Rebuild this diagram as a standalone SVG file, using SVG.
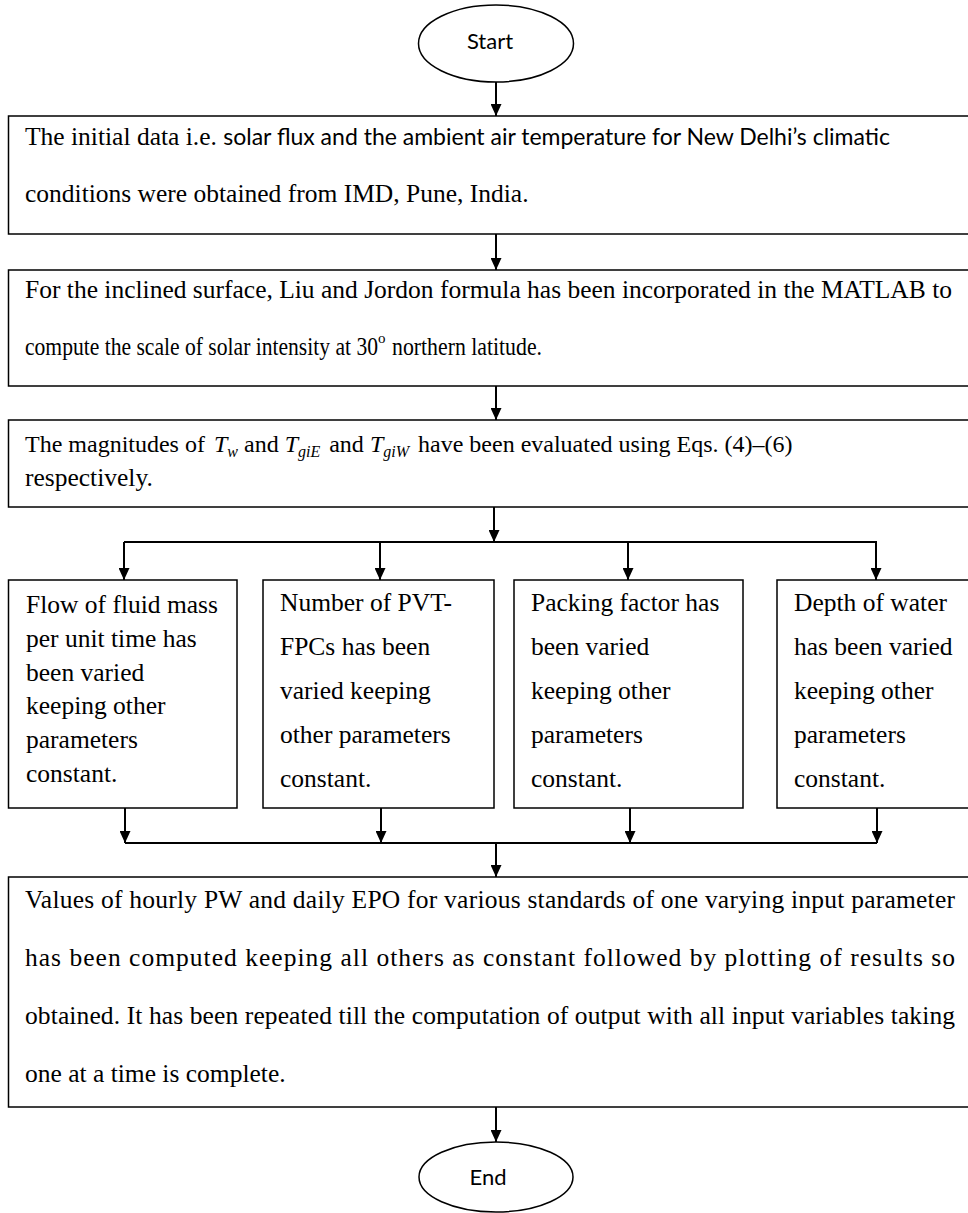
<svg xmlns="http://www.w3.org/2000/svg" width="968" height="1213" viewBox="0 0 968 1213">
<style>
.box{fill:#fff;stroke:#000;stroke-width:1.5}
.term{fill:#fff;stroke:#000;stroke-width:1.5}
.t{font-family:"Liberation Serif","Times New Roman",serif;font-size:25.5px;fill:#000}
.sup{font-family:"Liberation Serif","Times New Roman",serif;font-size:15px;fill:#000}
.s{font-family:Lato,"Open Sans",sans-serif;font-size:23px}
.m{font-style:italic}
.sub{font-style:italic;font-size:16px}
.tt{font-family:Lato,"Open Sans",sans-serif;font-size:22px;fill:#000}
.ln{stroke:#000;stroke-width:2;fill:none}
.ar{stroke:#000;stroke-width:2;fill:none;marker-end:url(#ah)}
</style>
<defs>
<marker id="ah" markerUnits="userSpaceOnUse" markerWidth="12" markerHeight="11" viewBox="0 0 12 11" refX="12" refY="5.5" orient="auto"><path d="M0,0 L12,5.5 L0,11 z" fill="#000"/></marker>
</defs>
<g id="connectors">
<path class="ar" d="M496,82 V116"/>
<path class="ar" d="M496,234 V270"/>
<path class="ar" d="M496,386 V420"/>
<path class="ar" d="M494,507 V542"/>
<path class="ln" d="M124,542 H877"/>
<path class="ar" d="M124,542 V580"/>
<path class="ar" d="M380,542 V580"/>
<path class="ar" d="M628,542 V580"/>
<path class="ar" d="M876,542 V580"/>
<path class="ar" d="M125,808 V843"/>
<path class="ar" d="M381,808 V843"/>
<path class="ar" d="M630,808 V843"/>
<path class="ar" d="M877,808 V843"/>
<path class="ln" d="M125,843 H877"/>
<path class="ar" d="M496,843 V877"/>
<path class="ar" d="M496,1107 V1142"/>
</g>
<g id="start">
<ellipse class="term" cx="496" cy="43.5" rx="77.5" ry="38.5"/>
<text class="tt" x="490" y="49" text-anchor="middle">Start</text>
</g>
<g id="box1">
<rect class="box" x="8.5" y="116" width="975" height="118"/>
<text class="t" x="25" y="145">The initial data i.e. <tspan class="s">solar flux and the ambient air temperature for New Delhi’s climatic</tspan></text>
<text class="t" x="25" y="202">conditions were obtained from IMD, Pune, India.</text>
</g>
<g id="box2">
<rect class="box" x="8.5" y="270" width="975" height="116"/>
<text class="t" x="25" y="298">For the inclined surface, Liu and Jordon formula has been incorporated in the MATLAB to</text>
<text class="t" x="25" y="355" textLength="353" lengthAdjust="spacingAndGlyphs">compute the scale of solar intensity at 30</text>
<text class="sup" x="378" y="343">o</text>
<text class="t" x="392" y="355" textLength="150" lengthAdjust="spacingAndGlyphs">northern latitude.</text>
</g>
<g id="box3">
<rect class="box" x="8.5" y="420" width="975" height="87"/>
<text class="t" x="25" y="452" style="font-size:24px">The magnitudes of <tspan class="m" dx="3">T</tspan><tspan class="sub" dy="5">w</tspan><tspan dy="-5"> and </tspan><tspan class="m">T</tspan><tspan class="sub" dy="5">giE</tspan><tspan dy="-5" dx="3"> and </tspan><tspan class="m">T</tspan><tspan class="sub" dy="5">giW</tspan><tspan dy="-5" dx="3"> have been evaluated using Eqs. (4)–(6)</tspan></text>
<text class="t" x="25" y="486">respectively.</text>
</g>
<g id="boxA">
<rect class="box" x="8.5" y="580" width="228.5" height="228"/>
<text class="t" x="26" y="613">Flow of fluid mass</text>
<text class="t" x="26" y="647">per unit time has</text>
<text class="t" x="26" y="681">been varied</text>
<text class="t" x="26" y="714">keeping other</text>
<text class="t" x="26" y="748">parameters</text>
<text class="t" x="26" y="782">constant.</text>
</g>
<g id="boxB">
<rect class="box" x="263" y="580" width="231" height="228"/>
<text class="t" x="280" y="611">Number of PVT-</text>
<text class="t" x="280" y="655">FPCs has been</text>
<text class="t" x="280" y="699">varied keeping</text>
<text class="t" x="280" y="743">other parameters</text>
<text class="t" x="280" y="787">constant.</text>
</g>
<g id="boxC">
<rect class="box" x="514" y="580" width="229" height="228"/>
<text class="t" x="531" y="611">Packing factor has</text>
<text class="t" x="531" y="655">been varied</text>
<text class="t" x="531" y="699">keeping other</text>
<text class="t" x="531" y="743">parameters</text>
<text class="t" x="531" y="787">constant.</text>
</g>
<g id="boxD">
<rect class="box" x="777" y="580" width="200" height="228"/>
<text class="t" x="794" y="611">Depth of water</text>
<text class="t" x="794" y="655">has been varied</text>
<text class="t" x="794" y="699">keeping other</text>
<text class="t" x="794" y="743">parameters</text>
<text class="t" x="794" y="787">constant.</text>
</g>
<g id="boxFinal">
<rect class="box" x="8.5" y="877" width="975" height="230"/>
<text class="t" x="25" y="908" textLength="930" lengthAdjust="spacing">Values of hourly PW and daily EPO for various standards of one varying input parameter</text>
<text class="t" x="25" y="966" textLength="930" lengthAdjust="spacing">has been computed keeping all others as constant followed by plotting of results so</text>
<text class="t" x="25" y="1024" textLength="930" lengthAdjust="spacing">obtained. It has been repeated till the computation of output with all input variables taking</text>
<text class="t" x="25" y="1082">one at a time is complete.</text>
</g>
<g id="end">
<ellipse class="term" cx="496" cy="1177" rx="77" ry="35"/>
<text class="tt" x="488" y="1185" text-anchor="middle">End</text>
</g>
</svg>
